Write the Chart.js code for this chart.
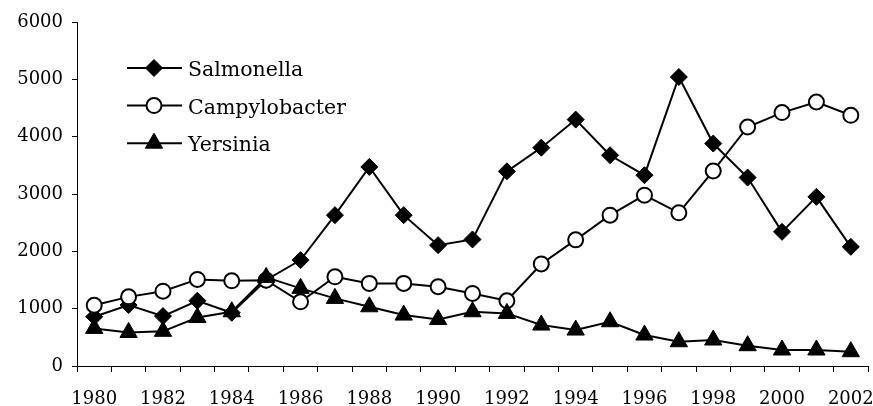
<!DOCTYPE html>
<html>
<head>
<meta charset="utf-8">
<script src="https://cdn.jsdelivr.net/npm/chart.js@4.4.1/dist/chart.umd.min.js"></script>
<style>
  html, body { margin: 0; padding: 0; background: #fff; }
  canvas { display: block; }
</style>
</head>
<body>
<canvas id="chart" width="873" height="406"></canvas>
<script>
const years = ['1980', '1981', '1982', '1983', '1984', '1985', '1986', '1987', '1988', '1989', '1990', '1991',
               '1992', '1993', '1994', '1995', '1996', '1997', '1998', '1999', '2000', '2001', '2002'];

const salmonella = [860, 1063, 870, 1138, 929, 1500, 1847, 2631, 3472, 2631, 2108, 2207,
                    3395, 3808, 4298, 3676, 3328, 5040, 3880, 3287, 2340, 2950, 2078];
const campylobacter = [1060, 1206, 1305, 1510, 1485, 1497, 1120, 1556, 1441, 1441, 1382, 1266,
                       1138, 1780, 2200, 2631, 2979, 2671, 3402, 4169, 4420, 4605, 4373];
const yersinia = [656, 585, 605, 845, 946, 1545, 1354, 1179, 1033, 888, 810, 946,
                  917, 714, 627, 772, 540, 423, 453, 354, 279, 279, 249];

const yMax = 6000;
const yStep = 1000;

Chart.defaults.font.family = '"DejaVu Serif", serif';
Chart.defaults.font.size = 18;
Chart.defaults.color = '#000';

// legend sits inside the plot, top left, like the original
const insideLegend = {
  id: 'insideLegend',
  afterDatasetsDraw(chart) {
    const ctx = chart.ctx;
    ctx.save();
    ctx.font = '20.5px "DejaVu Serif", serif';
    ctx.textBaseline = 'alphabetic';
    chart.data.datasets.forEach((ds, i) => {
      const y = 68 + i * 37.6;
      ctx.strokeStyle = '#000';
      ctx.lineWidth = 2;
      ctx.beginPath();
      ctx.moveTo(127, y);
      ctx.lineTo(182, y);
      ctx.stroke();
      ctx.fillStyle = ds.pointBackgroundColor;
      ctx.lineWidth = ds.pointBorderWidth;
      Chart.helpers.drawPoint(ctx, {
        pointStyle: ds.pointStyle,
        radius: ds.pointRadius,
        rotation: 0,
        borderWidth: ds.pointBorderWidth
      }, 154, y);
      ctx.fillStyle = '#000';
      ctx.fillText(ds.label, 188, y + 8);
    });
    ctx.restore();
  }
};

function series(label, data, style, fill, radius, order) {
  return {
    label, data, order,
    borderColor: '#000',
    borderWidth: 2,
    tension: 0,
    clip: false,
    pointStyle: style,
    pointRadius: radius,
    pointHoverRadius: radius,
    pointBackgroundColor: fill,
    pointBorderColor: '#000',
    pointBorderWidth: style === 'circle' ? 2 : 1
  };
}

new Chart(document.getElementById('chart'), {
  type: 'line',
  data: {
    labels: years,
    datasets: [
      series('Salmonella', salmonella, 'rectRot', '#000', 8.5, 3),
      series('Campylobacter', campylobacter, 'circle', '#fff', 7.5, 2),
      series('Yersinia', yersinia, 'triangle', '#000', 10, 1)
    ]
  },
  options: {
    responsive: false,
    animation: false,
    layout: { autoPadding: false, padding: { top: 22, right: 5, left: 0, bottom: 0 } },
    plugins: {
      legend: { display: false },
      tooltip: { enabled: false }
    },
    scales: {
      x: {
        offset: true,
        grid: { offset: true, drawOnChartArea: false, drawTicks: true, tickLength: 6, color: '#000', lineWidth: 1 },
        border: { color: '#000', width: 1 },
        ticks: {
          autoSkip: false,
          maxRotation: 0,
          padding: 17,
          callback(v, i) { return i % 2 === 0 ? this.getLabelForValue(v) : ''; }
        },
        afterFit(s) {
          s.height = 40;
          s.paddingLeft = 0;
          s.paddingRight = 0;
        }
      },
      y: {
        min: 0,
        max: yMax,
        ticks: { stepSize: yStep, padding: 9, callback: v => String(v) },
        grid: { drawOnChartArea: false, drawTicks: true, tickLength: 5, color: '#000', lineWidth: 1 },
        border: { color: '#000', width: 1 },
        afterFit(s) {
          s.width = 77;
          s.paddingTop = 0;
          s.paddingBottom = 0;
        }
      }
    }
  },
  plugins: [insideLegend]
});
</script>
</body>
</html>
